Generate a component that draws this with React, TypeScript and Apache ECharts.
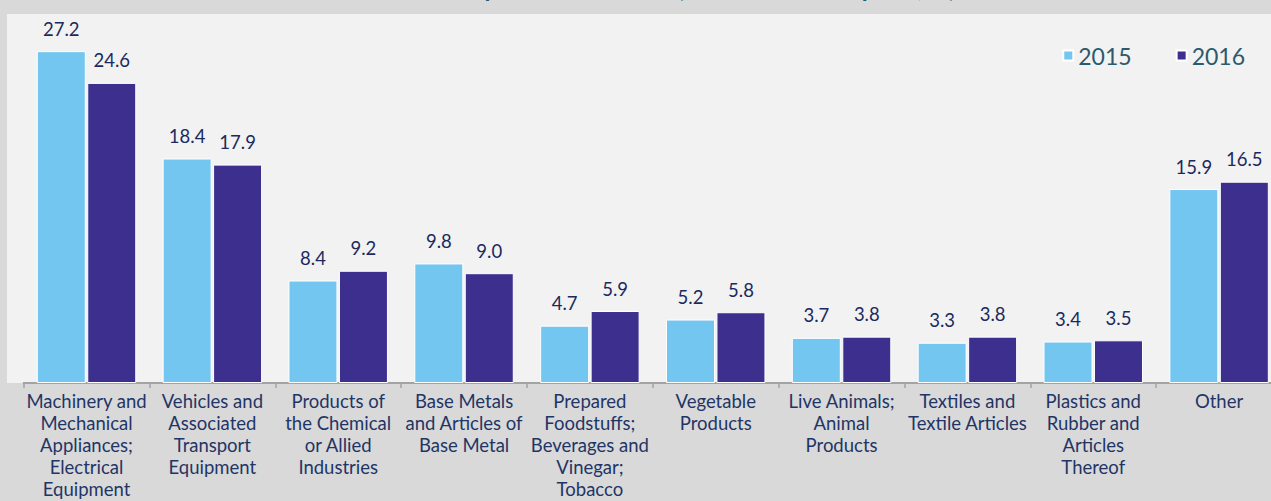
import React, { useEffect, useRef } from "react";
import * as echarts from "echarts";

const categories = [
  "Machinery and\nMechanical\nAppliances;\nElectrical\nEquipment",
  "Vehicles and\nAssociated\nTransport\nEquipment",
  "Products of\nthe Chemical\nor Allied\nIndustries",
  "Base Metals\nand Articles of\nBase Metal",
  "Prepared\nFoodstuffs;\nBeverages and\nVinegar;\nTobacco",
  "Vegetable\nProducts",
  "Live Animals;\nAnimal\nProducts",
  "Textiles and\nTextile Articles",
  "Plastics and\nRubber and\nArticles\nThereof",
  "Other",
];
const values2015 = [27.2, 18.4, 8.4, 9.8, 4.7, 5.2, 3.7, 3.3, 3.4, 15.9];
const values2016 = [24.6, 17.9, 9.2, 9.0, 5.9, 5.8, 3.8, 3.8, 3.5, 16.5];
const seriesNames = ["2015", "2016"];
const titleText = "Structure of Imports 2015–2016 (Share of Total Imports, %)";

const FONT = "Lato";

export default function App() {
  const ref = useRef<HTMLDivElement>(null);
  useEffect(() => {
    if (!ref.current) return;
    const chart = echarts.init(ref.current, undefined, { renderer: "svg" });
    const label = {
      show: true,
      position: "top",
      distance: 13,
      color: "#1b2a5e",
      fontFamily: FONT,
      fontSize: 18.5,
      formatter: (p: any) => Number(p.value).toFixed(1),
    };
    chart.setOption({
      animation: false,
      backgroundColor: "#d9d9d9",
      graphic: [
        {
          type: "rect",
          silent: true,
          z: -10,
          shape: { x: 7, y: 14, width: 1300, height: 369 },
          style: { fill: "#f2f2f2" },
        },
        {
          type: "text",
          x: 640,
          y: -25,
          style: {
            text: titleText,
            fill: "#1d5a70",
            align: "center",
            font: `bold 24px ${FONT}`,
          },
        },
      ],
      legend: {
        data: seriesNames,
        right: 40,
        top: 39,
        itemWidth: 10,
        itemHeight: 10,
        itemGap: 44,
        icon: "rect",
        textStyle: { color: "#2a5a6c", fontSize: 23, fontFamily: FONT },
      },
      grid: { left: 23.6, right: 8, top: 17, bottom: 118 },
      xAxis: {
        type: "category",
        data: categories,
        axisLine: { lineStyle: { color: "#a3a3a3", width: 2 } },
        axisTick: { show: true, length: 5, lineStyle: { color: "#a3a3a3", width: 1.5 } },
        axisLabel: {
          interval: 0,
          color: "#1f3566",
          fontFamily: FONT,
          fontSize: 18.5,
          lineHeight: 22,
          margin: 7,
          align: "center",
        },
      },
      yAxis: {
        type: "value",
        min: 0,
        max: 30,
        show: false,
        splitLine: { show: false },
      },
      series: [
        {
          name: seriesNames[0],
          type: "bar",
          data: values2015,
          barWidth: 49,
          barGap: "3%",
          itemStyle: { color: "#73c6f0", borderColor: "#ffffff", borderWidth: 1 },
          label,
        },
        {
          name: seriesNames[1],
          type: "bar",
          data: values2016,
          barWidth: 49,
          itemStyle: { color: "#3c2f8e", borderColor: "#ffffff", borderWidth: 1 },
          label,
        },
      ],
    });
    return () => chart.dispose();
  }, []);
  return (
    <div
      ref={ref}
      style={{ position: "fixed", left: 0, top: 0, width: 1290, height: 501 }}
    />
  );
}
